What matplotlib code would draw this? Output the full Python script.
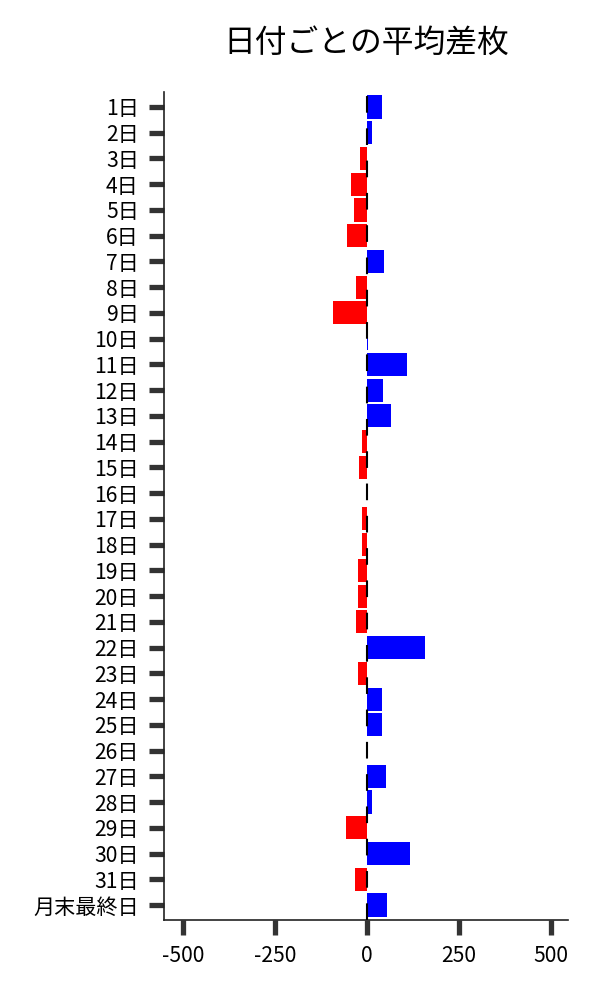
import matplotlib
matplotlib.use("Agg")
import matplotlib.pyplot as plt

plt.rcParams['font.family'] = ['Noto Sans CJK JP', 'DejaVu Sans']

labels = [f"{d}日" for d in range(1, 32)] + ["月末最終日"]
values = [40, 13, -19, -43, -35, -54, 46, -30, -92, 2,
          108, 43, 64, -14, -22, 1, -14, -14, -24, -24,
          -29, 158, -24, 40, 40, 0, 51, 13, -57, 116,
          -32, 54]
xticks = [-500, -250, 0, 250, 500]

fig = plt.figure(figsize=(6, 10), dpi=100)
ax = fig.add_axes([0.273, 0.08, 0.674, 0.828])

colors = ['blue' if v >= 0 else 'red' for v in values]
ax.barh(range(len(values)), values, height=0.9, color=colors, zorder=2)
ax.axvline(0, color='black', linestyle=(0, (8, 7.5)), linewidth=1.5, zorder=3)

ax.set_yticks(range(len(labels)))
ax.set_yticklabels(labels)
ax.set_ylim(len(labels) - 1 + 0.58, -0.58)
ax.set_xlim(-552, 546)
ax.set_xticks(xticks)
ax.set_xticklabels([str(t) for t in xticks])

ax.tick_params(axis='both', length=11, width=3.8, color='#333333', labelsize=15.2, pad=7)
for s in ['top', 'right']:
    ax.spines[s].set_visible(False)
for s in ['left', 'bottom']:
    ax.spines[s].set_color('#222222')
    ax.spines[s].set_linewidth(1.2)

fig.text(0.61, 0.957, "日付ごとの平均差枚", ha='center', va='center', fontsize=22.9)

fig.savefig("out.png", dpi=100)
